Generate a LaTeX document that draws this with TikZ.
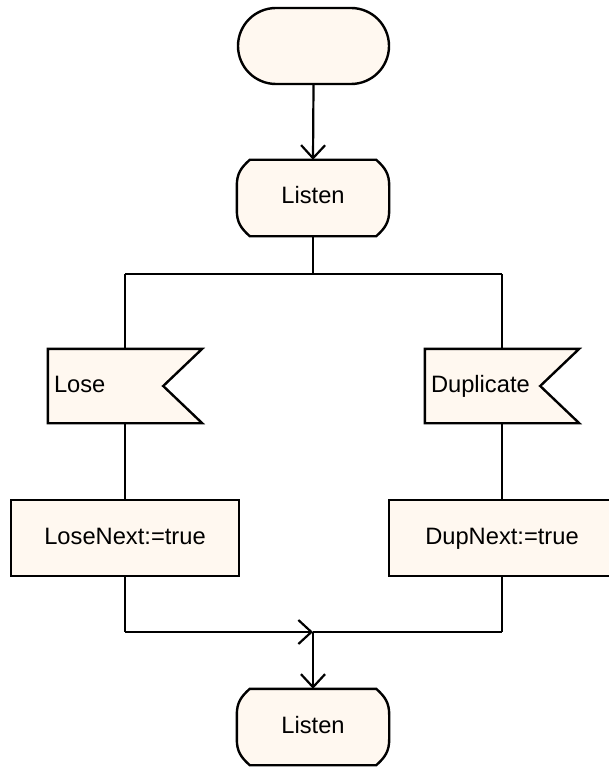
\documentclass[tikz,border=0pt]{standalone}
\usepackage{fontspec}
\setmainfont{Liberation Sans}
\usetikzlibrary{arrows.meta,backgrounds}
\definecolor{sdlfill}{RGB}{255,248,240}
\tikzset{
  flowline/.style={line width=2.2pt, black},
  flowarrow/.style={flowline, -{Straight Barb[length=13pt,width=24pt,line width=2.2pt]}},
  shapeline/.style={draw=black, line width=2.4pt, fill=sdlfill, line join=miter},
  box/.style={draw=none, inner sep=0pt, text height=17pt, text depth=5pt,
    font=\fontsize{23.7}{28}\selectfont},
  terminal/.style={box, shapeline, rounded corners=38pt, minimum width=151pt, minimum height=76pt},
  statebox/.style={box, minimum width=152pt, minimum height=76pt},
  signalbox/.style={box, minimum width=154pt, minimum height=74pt, text width=142pt, align=left, inner xsep=6pt},
  taskbox/.style={box, shapeline, minimum height=76pt},
}
\begin{document}
\begin{tikzpicture}[x=1pt,y=-1pt]
  \clip (0,0) rectangle (609,767);

  % start symbol and the first state
  \node[terminal] (start) at (313.5,46) {};
  \node[statebox] (listenA) at (313,198) {Listen};

  % the two signal inputs
  \node[signalbox] (lose) at (125,386) {Lose};
  \node[signalbox] (dup) at (502,386) {Duplicate};

  % tasks
  \node[taskbox, minimum width=228pt] (loseNext) at (125,538) {LoseNext:=true};
  \node[taskbox, minimum width=226pt] (dupNext) at (502,538) {DupNext:=true};

  % the following state
  \node[statebox] (listenB) at (313,727) {Listen};

  % page ground and the outlines of the state and signal symbols
  \begin{scope}[on background layer]
    \fill[white] (0,0) rectangle (609,767);
    \foreach \s in {listenA,listenB}{
      \draw[shapeline]
        ([xshift=13pt]\s.north west) -- ([xshift=-13pt]\s.north east)
        .. controls ([xshift=-4pt,yshift=-8pt]\s.north east) and ([yshift=-14pt]\s.north east) .. ([yshift=-26pt]\s.north east)
        -- ([yshift=26pt]\s.south east)
        .. controls ([yshift=14pt]\s.south east) and ([xshift=-4pt,yshift=8pt]\s.south east) .. ([xshift=-13pt]\s.south east)
        -- ([xshift=13pt]\s.south west)
        .. controls ([xshift=4pt,yshift=8pt]\s.south west) and ([yshift=14pt]\s.south west) .. ([yshift=26pt]\s.south west)
        -- ([yshift=-26pt]\s.north west)
        .. controls ([yshift=-14pt]\s.north west) and ([xshift=4pt,yshift=-8pt]\s.north west) .. cycle;
    }
    \foreach \s in {lose,dup}{
      \draw[shapeline]
        (\s.north west) -- (\s.north east) -- ([xshift=-39pt]\s.east)
        -- (\s.south east) -- (\s.south west) -- cycle;
    }
  \end{scope}

  % branching and joining points
  \coordinate (splitM) at (313,274);
  \coordinate (splitL) at (125,274);
  \coordinate (splitR) at (502,274);
  \coordinate (joinM) at (313,632);
  \coordinate (joinL) at (125,632);
  \coordinate (joinR) at (502,632);

  % connectors
  \draw[flowarrow] (start.south) -- (listenA.north);
  \draw[flowline] (listenA.south) -- (splitM);
  \draw[flowline] (splitL) -- (splitR);
  \draw[flowline] (splitL) -- (lose.north);
  \draw[flowline] (splitR) -- (dup.north);
  \draw[flowline] (lose.south) -- (loseNext.north);
  \draw[flowline] (dup.south) -- (dupNext.north);
  \draw[flowline] (loseNext.south) -- (joinL);
  \draw[flowline] (dupNext.south) -- (joinR);
  \draw[flowarrow] (joinL) -- (joinM);
  \draw[flowline] (joinM) -- (joinR);
  \draw[flowarrow] (joinM) -- (listenB.north);
\end{tikzpicture}
\end{document}
